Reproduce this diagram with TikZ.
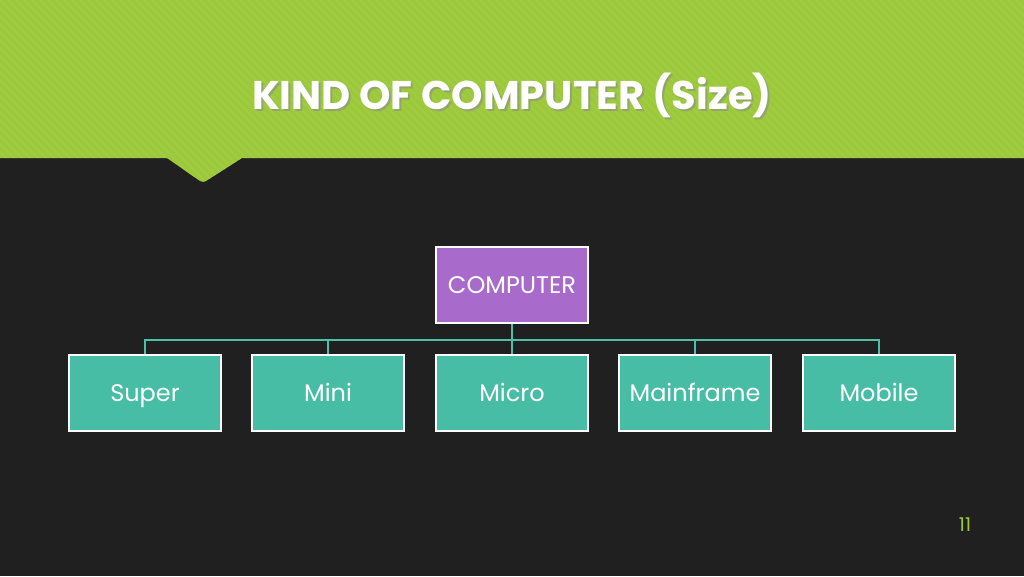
\documentclass[tikz,border=0pt]{standalone}
\usepackage{fontspec}
\setmainfont{Poppins}
\definecolor{bgdark}{HTML}{202020}
\definecolor{lime}{HTML}{9CC93B}
\definecolor{limestripe}{HTML}{A4CE46}
\definecolor{purp}{HTML}{A96BCB}
\definecolor{teal}{HTML}{47BDA5}
\definecolor{tline}{HTML}{4CC0A8}
\begin{document}
\begin{tikzpicture}[x=1pt,y=-1pt,
  box/.style={draw=white, line width=2pt, minimum width=152pt, minimum height=76pt, inner sep=0pt, text=white, font=\fontsize{24}{28}\selectfont, text height=17pt, text depth=0pt},
  parent/.style={box, fill=purp},
  child/.style={box, fill=teal},
  link/.style={draw=tline, line width=1.2pt}]
\useasboundingbox (0,0) rectangle (1024,576);
\fill[bgdark] (0,0) rectangle (1024,576);
% green header with notch
\fill[lime] (0,0) -- (1024,0) -- (1024,158) -- (242,158) -- (206,181) to[out=-150,in=-30] (200,181) -- (167,158) -- (0,158) -- cycle;
\begin{scope}
\clip (0,0) -- (1024,0) -- (1024,158) -- (242,158) -- (206,181) to[out=-150,in=-30] (200,181) -- (167,158) -- (0,158) -- cycle;
\foreach \i in {-200,-192,...,1040} {
  \draw[limestripe, line width=2pt, opacity=0.6] (\i,0) -- (\i+190,190);
}
\end{scope}
% title
\node[text=black!45, opacity=0.6, font=\fontsize{40}{44}\selectfont\bfseries] (titleshadow) at (514,97) {KIND OF COMPUTER (Size)};
\node[text=white, font=\fontsize{40}{44}\selectfont\bfseries] (title) at (512,95) {KIND OF COMPUTER (Size)};
% nodes
\node[parent] (computer) at (512,285) {COMPUTER};
\node[child] (super) at (145,393) {Super};
\node[child] (mini) at (328,393) {Mini};
\node[child] (micro) at (512,393) {Micro};
\node[child] (mainframe) at (695,393) {Mainframe};
\node[child] (mobile) at (879,393) {Mobile};
% connectors
\coordinate (hub) at (512,340);
\draw[link] (computer.south) -- (hub);
\draw[link] (super.north) |- (hub);
\draw[link] (mobile.north) |- (hub);
\draw[link] (mini.north) -- (mini.north |- hub);
\draw[link] (micro.north) -- (hub);
\draw[link] (mainframe.north) -- (mainframe.north |- hub);
% page number
\node[text=lime, font=\fontsize{19}{22}\selectfont] (pagenum) at (965,525) {11};
\end{tikzpicture}
\end{document}
